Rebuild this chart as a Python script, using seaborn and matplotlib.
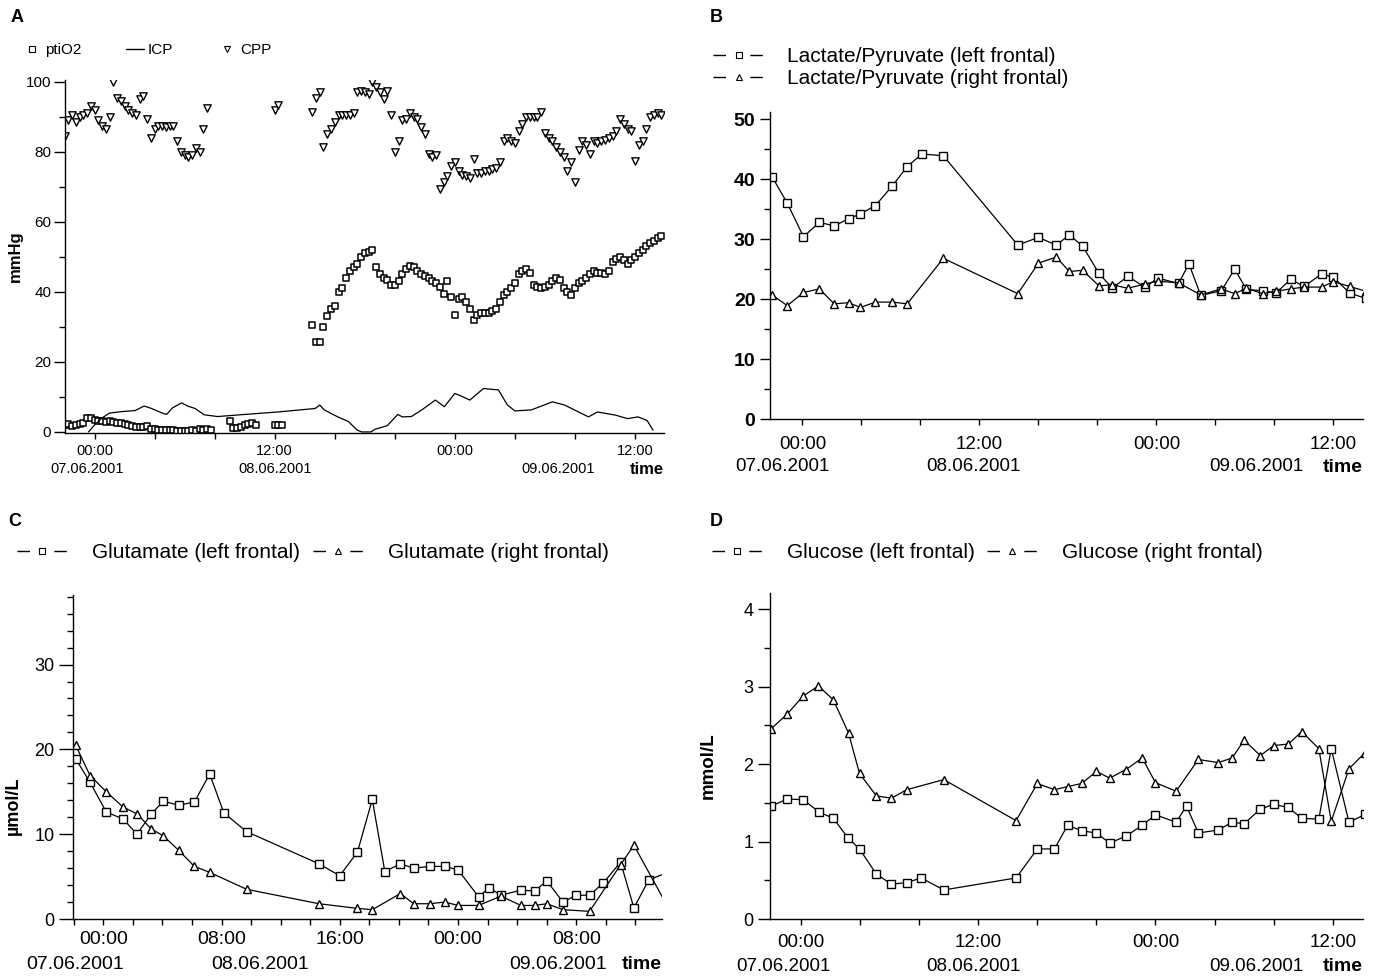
"""Four-panel neuromonitoring figure (ptiO2/ICP/CPP and microdialysis).

Writes out.png in the working folder.
"""
import matplotlib
matplotlib.use("Agg")

import pandas as pd
import seaborn as sns
import matplotlib.pyplot as plt
from matplotlib.lines import Line2D
from matplotlib.ticker import MultipleLocator

# time axis: hours after the first labelled 00:00
SAMPLE_STEP = 0.25  # bedside monitor sampling interval (h)

# ---- panel A: CPP (mmHg), monitor segments (start hour, values) ----
cpp_seg1_start = -2.0
cpp_seg1 = [84.5, 89, 90.5, 88.5, 90, 90.5, 91, 93, 92, 89, 87.5, 86.5, 90,
            100, 95.5, 94.5, 93, 92, 91, 90.5, 95, 96, 89.5, 84, 86.5, 87.5,
            87.5, 87, 87.5, 87.5, 83, 80, 79, 78.5, 79, 81, 80, 86.5, 92.5]
cpp_seg2_start = 12.0
cpp_seg2 = [92, 93.5]
cpp_seg3_start = 14.5
cpp_seg3 = [91.5, 95.5, 97, 81.5, 85, 86.5, 88.5, 90.5, 90.5, 90.5, 90.5, 91,
            97, 97.5, 97, 96.5, 100, 98.5, 97, 95, 97.5, 90.5, 80, 83,
            89, 89.5, 91, 90, 89.5, 87, 85, 79.5, 78.5, 79, 69.5, 71.5,
            73, 76, 77, 74.5, 73.5, 73, 72.5, 78, 74, 74, 74.5, 74.5,
            75, 75.5, 77, 83, 84, 83, 82.5, 86, 88, 90, 90, 90,
            90, 91.5, 85.5, 84, 83, 81.5, 80, 78.5, 74.5, 77, 71.5, 80.5,
            83, 82, 79.5, 83, 82.5, 83, 83.5, 84, 84.5, 86, 89.5, 88,
            86.5, 86, 77.5, 82, 83, 86.5, 90, 90.5, 91, 90.5]

# ---- panel A: ptiO2 (mmHg) ----
pti_seg1_start = -2.0
pti_seg1 = [2, 2.2, 1.8, 2, 2.3, 2.5, 4, 4, 3.5, 3, 3, 2.8, 3, 2.8, 2.5, 2.5,
            2.3, 2, 1.8, 1.5, 1.3, 1.5, 1.8, 0.8, 0.7, 0.6, 0.6, 0.5, 0.5,
            0.5, 0.4, 0.4, 0.4, 0.4, 0.5, 0.4, 0.8, 0.5, 0.8, 0.6]
pti_seg2_start = 9.0
pti_seg2 = [3, 1, 1.2, 1.5, 2, 2.3, 2.5, 2]
pti_seg3_start = 12.0
pti_seg3 = [2, 2, 2]
pti_seg4_start = 14.5
pti_seg4 = [30.5, 25.7, 25.7, 30, 33, 35, 36, 40, 41, 44, 46, 47,
            48, 50, 51, 51.5, 52, 47, 45, 44, 43.5, 42, 42, 43,
            45, 46.5, 47.5, 47, 46, 45, 44.5, 44, 43, 42.5, 41.5, 39.5,
            43, 38.5, 33.5, 38, 38.5, 37, 35, 32, 33.5, 34, 34, 34,
            34.5, 35, 37, 39, 40, 41, 42.5, 45, 46, 46.5, 45.5, 42,
            41.5, 41, 41.5, 42, 43, 44, 43.5, 41, 40, 39, 41, 42.5,
            43, 44, 45, 46, 45.5, 45.5, 45, 46, 48.5, 49.5, 50, 49,
            48, 49, 50, 51, 52, 53, 54, 54.5, 55.5, 56]

# ---- panel A: ICP (mmHg) trace ----
icp_t = [-0.4, 0.0, 0.5, 1.0, 1.8, 2.7, 3.3, 3.8, 4.5, 4.8, 5.2, 5.8, 6.2,
         6.7, 7.3, 8.2, 10.0, 12.2, 14.7, 15.0, 15.3, 16.2, 16.9, 17.5, 17.8,
         18.4, 18.7, 19.5, 20.2, 20.5, 21.1, 21.8, 22.7, 23.3, 24.0, 24.5,
         25.0, 25.9, 26.9, 27.5, 28.0, 29.1, 30.5, 31.3, 32.9, 33.5, 34.7,
         35.5, 36.2, 36.8, 37.2]
icp = [0, 2.0, 4.0, 5.4, 5.8, 6.1, 7.4, 6.7, 5.4, 5.0, 6.9, 8.3, 7.4,
       6.7, 4.9, 4.4, 5.0, 5.7, 6.7, 7.7, 6.3, 4.3, 3.0, 0.5, 0.0,
       0.0, 0.8, 1.8, 5.0, 4.3, 4.4, 6.3, 9.1, 7.2, 11.0, 10.1,
       9.1, 12.4, 12.0, 7.7, 6.0, 6.3, 8.6, 7.7, 4.3, 5.7, 4.8,
       3.8, 4.3, 3.3, 0.5]

# ---- panel B: lactate/pyruvate ratio ----
lp_left_t = [-2.06, -1.03, 0.07, 1.15, 2.15, 3.13, 3.93, 4.95, 6.1, 7.1, 8.1,
             9.55, 14.6, 16.0, 17.2, 18.1, 19.0, 20.1, 21.0, 22.05, 23.2, 24.1,
             25.5, 26.2, 27.0, 28.4, 29.3, 30.1, 31.2, 32.1, 33.1, 34.0, 35.2,
             36.0, 37.1, 38.2]
lp_left = [40.4, 36, 30.4, 32.8, 32.2, 33.4, 34.2, 35.6, 38.9, 42.1, 44.2,
           43.9, 29.0, 30.3, 29.0, 30.7, 28.8, 24.3, 21.8, 23.8, 22.0, 23.5,
           22.6, 25.9, 20.6, 21.4, 25.0, 21.6, 21.4, 21.0, 23.3, 22.1, 24.2,
           23.6, 21.0, 20.1]
lp_right_t = [-2.06, -1.03, 0.07, 1.15, 2.15, 3.13, 3.93, 4.95, 6.1, 7.1,
              9.55, 14.6, 16.0, 17.2, 18.1, 19.0, 20.1, 21.0, 22.05, 23.2,
              24.1, 25.5, 27.0, 28.4, 29.3, 30.1, 31.2, 32.1, 33.1, 34.0,
              35.2, 36.0, 37.1, 38.2]
lp_right = [20.7, 18.9, 21.1, 21.7, 19.2, 19.4, 18.6, 19.5, 19.5, 19.2,
            26.8, 20.9, 26.0, 27.0, 24.6, 24.8, 22.2, 22.4, 21.8, 22.5,
            23.0, 22.7, 20.7, 21.7, 20.9, 21.8, 20.9, 21.3, 21.7, 22.0,
            22.0, 22.9, 22.1, 21.3]

# ---- panel C: glutamate (umol/L) ----
glu_left_t = [-1.87, -0.89, 0.21, 1.34, 2.28, 3.26, 4.07, 5.1, 6.17, 7.2, 8.16,
              9.7, 14.6, 16.0, 17.2, 18.2, 19.05, 20.1, 21.0, 22.1, 23.1, 24.0,
              25.4, 26.1, 26.9, 28.25, 29.2, 30.0, 31.1, 32.0, 32.9, 33.8,
              35.0, 35.9, 36.9, 38.2]
glu_left = [18.9, 16.1, 12.6, 11.8, 10.0, 12.4, 13.9, 13.4, 13.8, 17.1, 12.5,
            10.3, 6.5, 5.1, 7.9, 14.1, 5.6, 6.5, 6.0, 6.2, 6.2, 5.8,
            2.6, 3.7, 2.8, 3.4, 3.3, 4.5, 2.0, 2.8, 2.8, 4.2,
            6.7, 1.3, 4.6, 5.5]
glu_right_t = [-1.87, -0.89, 0.21, 1.34, 2.28, 3.26, 4.07, 5.1, 6.17, 7.2,
               9.7, 14.6, 17.2, 18.2, 20.1, 21.0, 22.1, 23.1, 24.0, 25.4,
               26.9, 28.25, 29.2, 30.0, 31.1, 32.9, 35.0, 35.9, 38.2]
glu_right = [20.5, 16.9, 15.0, 13.2, 12.4, 10.6, 9.8, 8.1, 6.2, 5.5,
             3.5, 1.8, 1.25, 1.1, 3.0, 1.8, 1.8, 2.0, 1.6, 1.6,
             2.7, 1.6, 1.6, 1.8, 1.1, 0.9, 6.4, 8.7, 1.4]

# ---- panel D: glucose (mmol/L) ----
glc_left_t = [-2.0, -0.92, 0.15, 1.24, 2.19, 3.17, 3.96, 5.1, 6.12, 7.16, 8.14,
              9.67, 14.56, 16.0, 17.16, 18.05, 19.0, 20.0, 20.9, 22.0, 23.1,
              24.0, 25.4, 26.1, 26.9, 28.25, 29.2, 30.0, 31.1, 32.0, 33.0,
              33.9, 35.06, 35.9, 37.1, 38.2]
glc_left = [1.46, 1.55, 1.54, 1.38, 1.30, 1.05, 0.905, 0.58, 0.45, 0.47, 0.53,
            0.375, 0.53, 0.905, 0.905, 1.21, 1.14, 1.11, 0.98, 1.07, 1.21,
            1.345, 1.25, 1.46, 1.11, 1.15, 1.25, 1.23, 1.42, 1.48, 1.44,
            1.30, 1.29, 2.2, 1.25, 1.35]
glc_right_t = [-2.0, -0.92, 0.15, 1.18, 2.19, 3.22, 3.96, 5.1, 6.12, 7.16,
               9.67, 14.56, 16.0, 17.16, 18.05, 19.0, 20.0, 20.9, 22.0, 23.1,
               24.0, 25.4, 26.9, 28.25, 29.2, 30.0, 31.1, 32.0, 33.0, 33.9,
               35.06, 35.9, 37.1, 38.2]
glc_right = [2.46, 2.65, 2.88, 3.01, 2.83, 2.40, 1.88, 1.59, 1.56, 1.67,
             1.80, 1.27, 1.75, 1.67, 1.71, 1.75, 1.905, 1.82, 1.93, 2.08,
             1.76, 1.65, 2.06, 2.02, 2.08, 2.31, 2.11, 2.24, 2.26, 2.42,
             2.2, 1.26, 1.94, 2.15]

# tick labels
ticks_12h = [0, 12, 24, 36]
labels_12h = ["00:00", "12:00", "00:00", "12:00"]
ticks_8h = [0, 8, 16, 24, 32]
labels_8h = ["00:00", "08:00", "16:00", "00:00", "08:00"]
dates = ["07.06.2001", "08.06.2001", "09.06.2001"]

FONT = ["Liberation Sans", "DejaVu Sans"]


def monitor_frame(segments):
    rows = []
    for start, values in segments:
        for i, v in enumerate(values):
            rows.append({"hour": start + i * SAMPLE_STEP, "value": v})
    return pd.DataFrame(rows)


def series_frame(t, v):
    return pd.DataFrame({"hour": t, "value": v})


def draw_series(ax, t, v, marker):
    sns.lineplot(data=series_frame(t, v), x="hour", y="value", ax=ax,
                 estimator=None, color="black", linewidth=0.9,
                 marker=marker, markersize=5.8, markerfacecolor="white",
                 markeredgecolor="black", markeredgewidth=1.0)


def style_axis(ax, xlim, ylim, xt, xl, xminor, yt, yminor, xfs, yfs,
               ybold=False, xpad=4, ylen=6, ypad=3):
    ax.set_xlim(*xlim)
    ax.set_ylim(*ylim)
    ax.set_xticks(xt)
    ax.set_xticklabels(xl)
    ax.xaxis.set_minor_locator(MultipleLocator(xminor))
    ax.set_yticks(yt)
    ax.set_yticklabels([f"{y:g}" for y in yt])
    ax.yaxis.set_minor_locator(MultipleLocator(yminor))
    ax.tick_params(axis="x", which="both", length=4, width=1, pad=xpad,
                   labelsize=xfs, direction="out")
    ax.tick_params(axis="y", which="major", length=ylen, width=1, pad=ypad,
                   labelsize=yfs, direction="out")
    ax.tick_params(axis="y", which="minor", length=4, width=1,
                   direction="out")
    if ybold:
        for lab in ax.get_yticklabels():
            lab.set_fontweight("bold")
    ax.set(xlabel="", ylabel="")
    sns.despine(ax=ax)
    for sp in ("left", "bottom"):
        ax.spines[sp].set_linewidth(1.0)
        ax.spines[sp].set_color("black")


def add_dates(ax, hours, dy, fs, time_fs, time_dy):
    for h, txt in zip(hours, dates):
        ax.annotate(txt, xy=(h, 0), xycoords=ax.get_xaxis_transform(),
                    xytext=(0, -dy), textcoords="offset points",
                    ha="center", va="center", fontsize=fs)
    ax.annotate("time", xy=(1, 0), xycoords="axes fraction",
                xytext=(0, -time_dy), textcoords="offset points",
                ha="right", va="center", fontsize=time_fs, fontweight="bold")


def pair_handles(name_left, name_right):
    dash = (0, (9.0, 17.5))
    h1 = Line2D([], [], color="black", lw=1.0, linestyle=dash, marker="s",
                markersize=4, markerfacecolor="white", markeredgecolor="black",
                markeredgewidth=0.8)
    h2 = Line2D([], [], color="black", lw=1.0, linestyle=dash, marker="^",
                markersize=4, markerfacecolor="white", markeredgecolor="black",
                markeredgewidth=0.8)
    return [h1, h2], [name_left, name_right]


def main():
    sns.set_theme(style="ticks")
    plt.rcParams.update({
        "font.family": FONT,
        "axes.edgecolor": "black",
        "xtick.color": "black",
        "ytick.color": "black",
        "text.color": "black",
        "axes.labelcolor": "black",
        "figure.facecolor": "white",
        "axes.facecolor": "white",
    })

    fig = plt.figure(figsize=(13.81, 9.77), dpi=100)
    W, H = 1381.0, 977.0

    def box(l, r, t, b):
        return [l / W, 1 - b / H, (r - l) / W, (b - t) / H]

    # ---------------- A ----------------
    ax_a = fig.add_axes(box(64.5, 664, 80, 433))
    cpp_df = monitor_frame([(cpp_seg1_start, cpp_seg1),
                            (cpp_seg2_start, cpp_seg2),
                            (cpp_seg3_start, cpp_seg3)])
    pti_df = monitor_frame([(pti_seg1_start, pti_seg1),
                            (pti_seg2_start, pti_seg2),
                            (pti_seg3_start, pti_seg3),
                            (pti_seg4_start, pti_seg4)])
    sns.lineplot(data=series_frame(icp_t, icp), x="hour", y="value", ax=ax_a,
                 estimator=None, color="black", linewidth=0.9)
    sns.scatterplot(data=cpp_df, x="hour", y="value", ax=ax_a, marker="v",
                    s=28, color="white", edgecolor="black", linewidth=1.0)
    sns.scatterplot(data=pti_df, x="hour", y="value", ax=ax_a, marker="s",
                    s=24, color="white", edgecolor="black", linewidth=1.1)
    style_axis(ax_a, (-2.0, 37.93), (-0.3, 100.5), ticks_12h, labels_12h, 4,
               list(range(0, 101, 20)), 10, xfs=10.5, yfs=11, xpad=4,
               ylen=8, ypad=1.5)
    ax_a.set_ylabel("mmHg", fontsize=12, fontweight="bold")
    ax_a.yaxis.set_label_coords(-0.07, 0.5)
    add_dates(ax_a, [-0.5, 12, 30.9], 26, 10.5, 12, 26.6)
    a_handles = [
        Line2D([], [], ls="none", marker="s", markersize=4,
               markerfacecolor="white", markeredgecolor="black",
               markeredgewidth=0.8),
        Line2D([], [], color="black", lw=1.0),
        Line2D([], [], ls="none", marker="v", markersize=4,
               markerfacecolor="white", markeredgecolor="black",
               markeredgewidth=0.8),
    ]
    ax_a.legend(a_handles, ["ptiO2", "ICP", "CPP"], ncol=3, frameon=False,
                loc="center left", bbox_to_anchor=(23 / W, 1 - 50 / H),
                bbox_transform=fig.transFigure, borderpad=0, borderaxespad=0,
                fontsize=11, handlelength=1.2, handletextpad=0.25,
                columnspacing=2.9)

    # ---------------- B ----------------
    ax_b = fig.add_axes(box(770, 1363, 112, 419))
    draw_series(ax_b, lp_left_t, lp_left, "s")
    draw_series(ax_b, lp_right_t, lp_right, "^")
    style_axis(ax_b, (-2.2, 38.0), (0, 51.2), ticks_12h, labels_12h, 4,
               list(range(0, 51, 10)), 5, xfs=13.5, yfs=14, ybold=True,
               xpad=8, ylen=7, ypad=3.5)
    add_dates(ax_b, [-1.34, 11.6, 30.8], 34.5, 13.5, 14, 35)
    hb, lb = pair_handles("Lactate/Pyruvate (left frontal)",
                          "Lactate/Pyruvate (right frontal)")
    ax_b.legend(hb, lb, ncol=1, frameon=False, loc="center left",
                bbox_to_anchor=(713 / W, 1 - 67.5 / H),
                bbox_transform=fig.transFigure, borderpad=0, borderaxespad=0,
                fontsize=15, handlelength=2.45, handletextpad=1.1,
                labelspacing=0.15)

    # ---------------- C ----------------
    ax_c = fig.add_axes(box(72.5, 662, 595, 919))
    draw_series(ax_c, glu_left_t, glu_left, "s")
    draw_series(ax_c, glu_right_t, glu_right, "^")
    style_axis(ax_c, (-2.08, 37.8), (0, 38.2), ticks_8h, labels_8h, 2,
               [0, 10, 20, 30], 2, xfs=14, yfs=13, xpad=5, ylen=10, ypad=3)
    ax_c.set_ylabel("µmol/L", fontsize=13, fontweight="bold")
    ax_c.yaxis.set_label_coords(-0.086, 0.35)
    add_dates(ax_c, [-1.87, 10.6, 30.8], 33, 14, 14, 33)
    hc, lc = pair_handles("Glutamate (left frontal)",
                          "Glutamate (right frontal)")
    ax_c.legend(hc, lc, ncol=2, frameon=False, loc="center left",
                bbox_to_anchor=(17 / W, 1 - 553 / H),
                bbox_transform=fig.transFigure, borderpad=0, borderaxespad=0,
                fontsize=15, handlelength=2.4, handletextpad=1.2,
                columnspacing=0.6)

    # ---------------- D ----------------
    ax_d = fig.add_axes(box(770, 1363, 593, 919))
    draw_series(ax_d, glc_left_t, glc_left, "s")
    draw_series(ax_d, glc_right_t, glc_right, "^")
    style_axis(ax_d, (-2.1, 38.05), (0, 4.21), ticks_12h, labels_12h, 4,
               [0, 1, 2, 3, 4], 0.5, xfs=13.5, yfs=13, xpad=7, ylen=9,
               ypad=3)
    ax_d.set_ylabel("mmol/L", fontsize=13.5, fontweight="bold")
    ax_d.yaxis.set_label_coords(-0.09, 0.47)
    add_dates(ax_d, [-1.2, 11.7, 30.8], 34, 13.5, 14, 34.5)
    hd, ld = pair_handles("Glucose (left frontal)", "Glucose (right frontal)")
    ax_d.legend(hd, ld, ncol=2, frameon=False, loc="center left",
                bbox_to_anchor=(712 / W, 1 - 553 / H),
                bbox_transform=fig.transFigure, borderpad=0, borderaxespad=0,
                fontsize=15, handlelength=2.4, handletextpad=1.2,
                columnspacing=0.6)

    # panel letters
    for txt, x, y in [("A", 17, 17), ("B", 716, 17), ("C", 15, 521),
                      ("D", 716, 521)]:
        fig.text(x / W, 1 - y / H, txt, ha="center", va="center",
                 fontsize=13, fontweight="bold")

    fig.savefig("out.png", dpi=100)
    plt.close(fig)


if __name__ == "__main__":
    main()
